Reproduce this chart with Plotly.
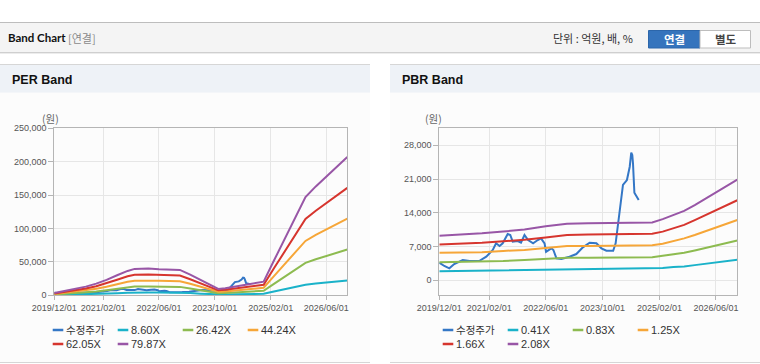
import plotly.graph_objects as go

W, H = 760, 364

# ---------------- DATA ----------------
per_names = ["수정주가", "8.60X", "26.42X", "44.24X", "62.05X", "79.87X"]
pbr_names = ["수정주가", "0.41X", "0.83X", "1.25X", "1.66X", "2.08X"]
colors = ["#3477c6", "#1ab2c9", "#8dbb50", "#f6a638", "#d6352e", "#9856a6"]

price_dates = ['2019-12-01', '2020-01-13', '2020-02-25', '2020-04-07', '2020-06-19', '2020-08-16',
               '2020-11-10', '2021-01-07', '2021-03-04', '2021-04-01', '2021-05-01', '2021-05-28',
               '2021-07-10', '2021-08-01', '2021-08-22', '2021-10-04', '2021-11-01', '2021-12-01',
               '2022-01-01', '2022-02-13', '2022-03-25', '2022-04-22', '2022-05-22', '2022-06-04',
               '2022-07-19', '2022-08-06', '2022-09-01', '2022-10-13', '2022-12-22', '2023-02-19',
               '2023-04-16', '2023-06-13', '2023-08-10', '2023-09-22', '2023-11-04', '2024-01-01',
               '2024-01-22', '2024-02-13', '2024-03-10', '2024-03-25', '2024-04-28', '2024-05-22',
               '2024-06-04', '2024-06-13', '2024-06-19', '2024-07-01', '2024-08-07']
price = [3650, 2970, 2490, 3380, 4210, 4000, 4050, 4900, 6280, 7670, 7110, 7670, 9600, 9400, 8010,
         8150, 7800, 9400, 8360, 7670, 8360, 8710, 7670, 5930, 6640, 6280, 4560, 4420, 4900, 5450,
         6840, 7800, 7670, 6640, 6140, 6140, 7670, 11820, 17340, 19770, 20800, 23560, 26470, 26000,
         24270, 18170, 16650]

per_dates = ['2019-12-01', '2020-03-01', '2020-06-01', '2020-09-01', '2020-12-01', '2021-03-01',
             '2021-06-01', '2021-09-01', '2021-11-01', '2022-03-01', '2022-06-01', '2022-09-01',
             '2022-12-01', '2023-03-01', '2023-06-01', '2023-09-01', '2023-11-01', '2024-01-01',
             '2024-04-01', '2024-07-01', '2024-10-01', '2024-12-01', '2025-03-01', '2025-06-01',
             '2025-09-01', '2025-12-01', '2026-03-01', '2026-06-01', '2026-09-01', '2026-12-01']
per_860 = [400, 700, 1000, 1400, 1900, 2500, 3200, 3900, 4300, 4300, 4200, 4100, 4100, 3300, 2500,
           1600, 1000, 1100, 1400, 1700, 2000, 2200, 5600, 9000, 12500, 15800, 17600, 19200, 20700, 22300]
per_2642 = [1200, 2200, 3100, 4300, 5800, 7600, 9900, 12100, 13100, 13200, 12900, 12700, 12600, 10300,
            7600, 5000, 3100, 3500, 4300, 5100, 6100, 6700, 17200, 27800, 38400, 48600, 53900, 58900,
            63500, 68500]
per_4424 = [1900, 3600, 5300, 7200, 9700, 12700, 16600, 20200, 21900, 22200, 21600, 21300, 21000, 17200,
            12700, 8300, 5300, 5800, 7200, 8600, 10200, 11300, 28800, 46500, 64300, 81400, 90300, 98600,
            106300, 114700]
per_6205 = [2700, 5000, 7400, 10100, 13600, 17900, 23300, 28400, 30700, 31100, 30300, 29900, 29500, 24100,
            17900, 11700, 7400, 8200, 10100, 12000, 14400, 15800, 40400, 65300, 90100, 114200, 126600,
            138300, 149200, 160800]
per_7987 = [3500, 6500, 9500, 13000, 17500, 23000, 30000, 36500, 39500, 40000, 39000, 38500, 38000, 31000,
            23000, 15000, 9500, 10500, 13000, 15500, 18500, 20400, 52000, 84000, 116000, 147000, 163000,
            178000, 192000, 207000]

pbr_dates = ['2019-12-01', '2020-06-01', '2020-12-01', '2021-06-01', '2021-12-01', '2022-06-01',
             '2022-12-01', '2023-06-01', '2023-12-01', '2024-06-01', '2024-12-01', '2025-03-01',
             '2025-06-01', '2025-09-01', '2025-12-01', '2026-03-01', '2026-06-01', '2026-09-01',
             '2026-12-01']
pbr_041 = [1900, 1950, 2000, 2050, 2150, 2250, 2350, 2350, 2350, 2400, 2400, 2550, 2750, 2850, 3150,
           3400, 3650, 3900, 4250]
pbr_083 = [3750, 3800, 3900, 4000, 4200, 4500, 4700, 4700, 4750, 4800, 4800, 5100, 5400, 5700, 6200,
           6700, 7300, 7800, 8250]
pbr_125 = [5700, 5700, 5800, 6100, 6300, 6700, 7100, 7100, 7200, 7200, 7250, 7600, 8100, 8700, 9400,
           10200, 10900, 11700, 12500]
pbr_166 = [7450, 7550, 7800, 8100, 8400, 8900, 9400, 9500, 9500, 9550, 9650, 10100, 10800, 11500,
           12500, 13500, 14500, 15600, 16600]
pbr_208 = [9250, 9450, 9750, 10100, 10550, 11200, 11750, 11850, 11900, 11950, 12000, 12700, 13500,
           14400, 15600, 16900, 18200, 19500, 20900]

x_tickvals = ['2019-12-01', '2021-02-01', '2022-06-01', '2023-10-01', '2025-02-01', '2026-06-01']
x_ticktext = ['2019/12/01', '2021/02/01', '2022/06/01', '2023/10/01', '2025/02/01', '2026/06/01']
per_yticks = [0, 50000, 100000, 150000, 200000, 250000]
pbr_yticks = [0, 7000, 14000, 21000, 28000]

per_bands = [per_860, per_2642, per_4424, per_6205, per_7987]
pbr_bands = [pbr_041, pbr_083, pbr_125, pbr_166, pbr_208]


# ---------------- helpers ----------------
def px(x):
    return x / W


def py(y):
    return 1 - y / H


KFONT = "Noto Sans CJK KR, Noto Sans, sans-serif"
TFONT = "Liberation Sans, Arial, sans-serif"

fig = go.Figure()

# PER traces
fig.add_trace(go.Scatter(x=price_dates, y=price, name=per_names[0], mode="lines",
                         line=dict(color=colors[0], width=2), xaxis="x", yaxis="y"))
for nm, vals, c in zip(per_names[1:], per_bands, colors[1:]):
    fig.add_trace(go.Scatter(x=per_dates, y=vals, name=nm, mode="lines",
                             line=dict(color=c, width=2), xaxis="x", yaxis="y"))
# PBR traces
fig.add_trace(go.Scatter(x=price_dates, y=price, name=pbr_names[0], mode="lines",
                         line=dict(color=colors[0], width=2), xaxis="x2", yaxis="y2"))
for nm, vals, c in zip(pbr_names[1:], pbr_bands, colors[1:]):
    fig.add_trace(go.Scatter(x=pbr_dates, y=vals, name=nm, mode="lines",
                             line=dict(color=c, width=2), xaxis="x2", yaxis="y2"))

tickfont = dict(family=TFONT, size=9, color="#555555")
common_x = dict(type="date", range=['2019-12-01', '2026-12-01'], tickvals=x_tickvals,
                ticktext=x_ticktext, showgrid=True, gridcolor="#e6e6e6", gridwidth=1,
                showline=True, linecolor="#b5b5b5", linewidth=1, mirror=True,
                ticks="outside", ticklen=4, tickcolor="#b5b5b5", tickfont=tickfont,
                tickangle=0, zeroline=False, fixedrange=True, automargin=False)
common_y = dict(showgrid=True, gridcolor="#e6e6e6", gridwidth=1, showline=True,
                linecolor="#b5b5b5", linewidth=1, mirror=True, ticks="outside", ticklen=5,
                tickcolor="#b5b5b5", tickfont=tickfont, tickformat=",", zeroline=False,
                fixedrange=True, automargin=False)

plot_top, plot_bot = 128.3, 295.3
fig.update_layout(
    width=W, height=H, margin=dict(l=0, r=0, t=0, b=0, autoexpand=False),
    paper_bgcolor="white", plot_bgcolor="white", showlegend=False,
    xaxis=dict(domain=[px(54.3), px(347.3)], anchor="y", **common_x),
    yaxis=dict(domain=[py(plot_bot), py(plot_top)], anchor="x", range=[0, 250000],
               tickvals=per_yticks, **common_y),
    xaxis2=dict(domain=[px(439.3), px(737.3)], anchor="y2", **common_x),
    yaxis2=dict(domain=[py(plot_bot), py(plot_top)], anchor="x2", range=[-3110, 31530],
                tickvals=pbr_yticks, **common_y),
)

shapes = []
ann = []


def rect(x0, y0, x1, y1, fill, line=None, lw=0):
    shapes.append(dict(type="rect", xref="paper", yref="paper", x0=px(x0), x1=px(x1),
                       y0=py(y1), y1=py(y0), fillcolor=fill,
                       line=dict(width=lw, color=line or fill), layer="below"))


def hline(x0, x1, y, color, lw=1):
    shapes.append(dict(type="line", xref="paper", yref="paper", x0=px(x0), x1=px(x1),
                       y0=py(y), y1=py(y), line=dict(width=lw, color=color), layer="below"))


def text(x, y, s, size, color, family=KFONT, xanchor="left", bold=False):
    if bold:
        s = "<b>" + s + "</b>"
    ann.append(dict(xref="paper", yref="paper", x=px(x), y=py(y), text=s, showarrow=False,
                    xanchor=xanchor, yanchor="middle", borderpad=0,
                    font=dict(family=family, size=size, color=color)))


# header band
rect(0, 22, 760, 52, "#f4f4f4")
hline(0, 760, 22.5, "#bdbdbd")
hline(0, 760, 52.5, "#cfcfcf")
hline(0, 760, 53.5, "#ececec")
text(7, 38, "Band Chart", 11.5, "#111111", family="Lato, " + TFONT, bold=True)
text(67, 38, "[연결]", 11, "#8a8a8a")
text(552, 38, "단위 : 억원, 배, %", 11, "#333333")
rect(648.5, 30.5, 700, 48, "#3574bd", line="#2c66aa", lw=1)
rect(700, 30.5, 750.5, 48, "#ffffff", line="#bdbdbd", lw=1)
text(674, 39, "연결", 11.5, "#ffffff", xanchor="center", bold=True)
text(725.5, 39, "별도", 11.5, "#444444", xanchor="center", bold=True)

# panels
for (x0, x1, title) in [(0, 370, "PER Band"), (390, 760, "PBR Band")]:
    rect(x0, 64, x1, 92.7, "#eef2f7")
    rect(x0, 92.7, x1, 362, "#fcfcfc")
    hline(x0, x1, 64.5, "#d6d6d6")
    hline(x0, x1, 362.5, "#d6d6d6")
    text(x0 + 11, 79.5, title, 12.5, "#111111", family=TFONT, bold=True)

text(50, 118.5, "(원)", 10.5, "#666666", xanchor="center")
text(433, 118.5, "(원)", 10.5, "#666666", xanchor="center")

# custom legends (built from series names and colours)
for (lx0, names) in [(52.7, per_names), (442.7, pbr_names)]:
    for i, (nm, c) in enumerate(zip(names, colors)):
        row, col = divmod(i, 4)
        sx = lx0 + col * 65
        sy = 330 + row * 14
        hline(sx, sx + 10.6, sy, c, lw=2.5)
        if i == 0:
            text(sx + 12, sy - 0.5, nm, 10.5, "#333333", family=KFONT)
        else:
            text(sx + 12, sy, nm, 11, "#333333", family=TFONT)

fig.update_layout(shapes=shapes, annotations=ann)

fig.write_html("out.html", include_plotlyjs=True, config={"displayModeBar": False},
               post_script="document.body.style.margin='0';")
